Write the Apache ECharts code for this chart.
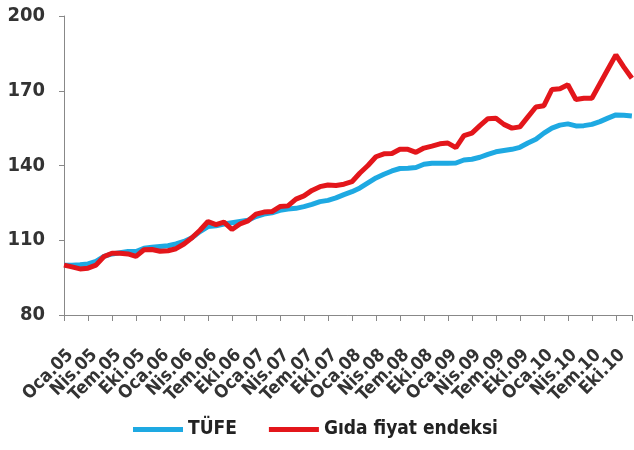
<!DOCTYPE html>
<html>
<head>
<meta charset="utf-8">
<script src="https://cdn.jsdelivr.net/npm/echarts@6/dist/echarts.min.js"></script>
<style>
html,body{margin:0;padding:0;background:#fff;}
#chart{width:634px;height:450px;}
</style>
</head>
<body>
<div id="chart"></div>
<script>
const monthNames = ['Oca','Şub','Mar','Nis','May','Haz','Tem','Ağu','Eyl','Eki','Kas','Ara'];
const years = ['05','06','07','08','09','10'];
const categories = [];
years.forEach(y => monthNames.forEach(m => categories.push(m + '.' + y)));

const tufe = [
  100, 100, 100.2, 100.5, 101.5, 103.5, 104.5, 105, 105.5, 105.5, 106.8, 107.2,
  107.5, 107.8, 108.5, 109.5, 111, 113.5, 115.5, 115.8, 116.5, 117, 117.5, 118,
  119.5, 120.5, 121, 122, 122.5, 122.8, 123.5, 124.4, 125.5, 126, 127, 128.3,
  129.5, 131, 133, 135, 136.5, 137.8, 138.8, 138.9, 139.2, 140.5, 140.9, 140.9,
  140.9, 141, 142.2, 142.5, 143.3, 144.5, 145.5, 146, 146.5, 147.3, 149, 150.5,
  153, 155, 156.2, 156.7, 155.9, 156, 156.5, 157.6, 159, 160.3, 160.2, 159.9
];
const gida = [
  100, 99.3, 98.5, 98.8, 100, 103.5, 104.8, 104.8, 104.5, 103.5, 106.2, 106.3,
  105.6, 105.8, 106.6, 108.5, 111, 114, 117.5, 116.3, 117.3, 114.3, 116.5, 117.8,
  120.5, 121.3, 121.5, 123.5, 123.8, 126.5, 127.8, 130, 131.5, 132.2, 132, 132.5,
  133.5, 137, 140, 143.5, 144.7, 144.8, 146.5, 146.5, 145.3, 147, 147.8, 148.7,
  149, 147.2, 152, 153, 156, 158.8, 159, 156.5, 155, 155.5, 159.5, 163.5,
  164, 170.5, 170.8, 172.4, 166.5, 167, 167, 172.8, 178.6, 184.4, 179.5, 175
];
const yTicks = [80, 110, 140, 170, 200];
const seriesNames = ['TÜFE', 'Gıda fiyat endeksi'];

const narrow = "'Liberation Sans Narrow', 'DejaVu Sans Condensed', 'Liberation Sans', sans-serif";
const chart = echarts.init(document.getElementById('chart'), null, {renderer: 'canvas'});
chart.setOption({
  animation: false,
  backgroundColor: '#ffffff',
  grid: {left: 64, right: 0, top: 16, bottom: 135, containLabel: false},
  legend: {
    bottom: 6,
    left: 128,
    itemGap: 32,
    itemWidth: 50,
    itemHeight: 5,
    icon: 'rect',
    textStyle: {fontFamily: narrow, fontSize: 19, color: '#222', fontWeight: 'bold'},
    data: seriesNames
  },
  xAxis: {
    type: 'category',
    boundaryGap: false,
    data: categories,
    axisLine: {lineStyle: {color: '#888', width: 1}},
    axisTick: {show: true, interval: 2, length: 6, lineStyle: {color: '#888'}},
    axisLabel: {
      interval: 0, rotate: 45, margin: 31, verticalAlign: 'top',
      formatter: (value, index) => (index % 3 === 0 ? value : ''),
      fontFamily: narrow, fontSize: 18, fontWeight: 'bold', color: '#333'
    },
    splitLine: {show: false}
  },
  yAxis: {
    type: 'value',
    min: yTicks[0], max: yTicks[yTicks.length - 1], interval: 30,
    axisLine: {show: true, lineStyle: {color: '#888', width: 1}},
    axisTick: {show: true, length: 5, lineStyle: {color: '#888'}},
    axisLabel: {fontFamily: narrow, fontSize: 20, fontWeight: 'bold', color: '#333', margin: 19},
    splitLine: {show: false}
  },
  series: [
    {name: seriesNames[0], type: 'line', data: tufe, symbol: 'none',
     lineStyle: {color: '#1EA9E2', width: 5}, itemStyle: {color: '#1EA9E2'}},
    {name: seriesNames[1], type: 'line', data: gida, symbol: 'none',
     lineStyle: {color: '#E3161B', width: 5}, itemStyle: {color: '#E3161B'}}
  ]
});
</script>
</body>
</html>
